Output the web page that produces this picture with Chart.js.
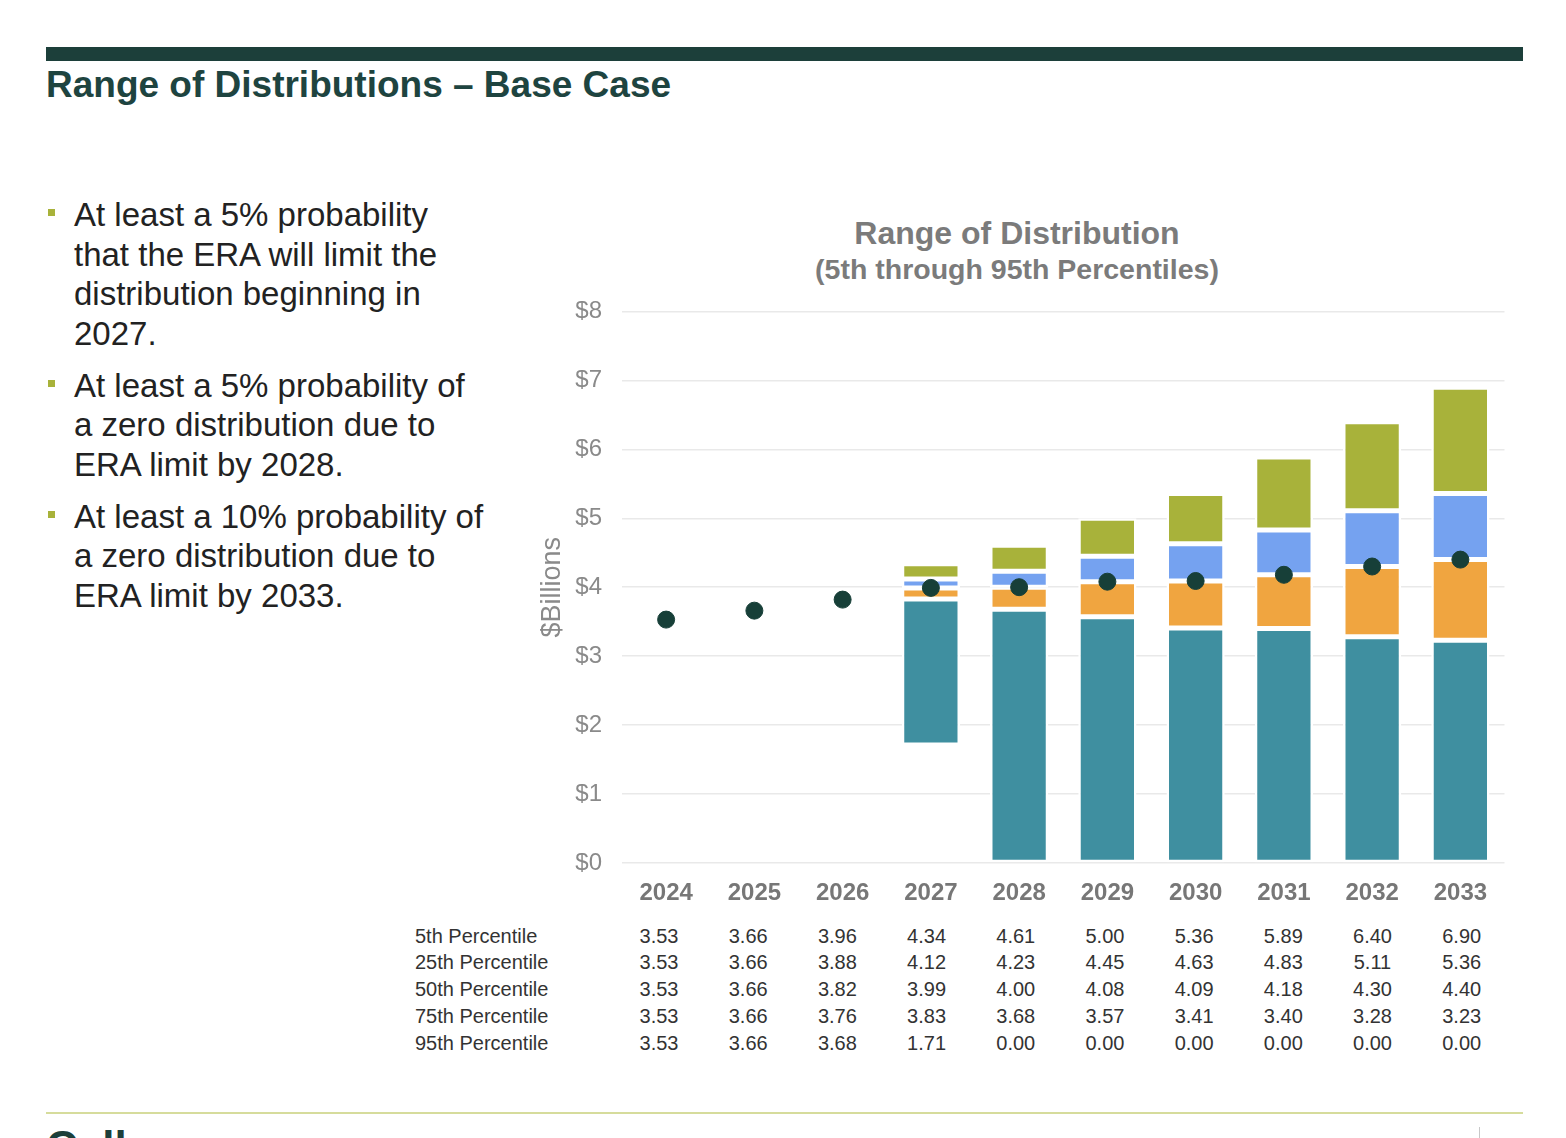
<!DOCTYPE html>
<html lang="en">
<head>
  <meta charset="UTF-8">
  <title>Range of Distributions – Base Case</title>
  <script src="https://cdn.jsdelivr.net/npm/chart.js"></script>
  <style>
    body {
      margin: 0;
      width: 1566px;
      height: 1138px;
      overflow: hidden;
      position: relative;
      background: #ffffff;
      font-family: 'Liberation Sans', Arial, sans-serif;
    }
    .topbar {
      position: absolute; left: 46px; top: 47px; width: 1477px; height: 14px;
      background: #1c3f3a;
    }
    h1 {
      position: absolute; left: 46px; top: 63px; margin: 0;
      font-size: 37px; line-height: 44px; font-weight: 700; color: #1e4440;
    }
    ul.points {
      position: absolute; left: 46px; top: 195px; margin: 0; padding: 0;
      list-style: none; font-size: 33px; line-height: 39.5px; color: #222;
    }
    ul.points li { position: relative; padding-left: 28px; margin-bottom: 12.5px; }
    ul.points li::before {
      content: ''; position: absolute; left: 2px; top: 14px; width: 7px; height: 7px;
      background: #a8b23a;
    }
    .chart-title {
      position: absolute; left: 717px; top: 215px; width: 600px; text-align: center;
      color: #7b7b7b; font-weight: 700;
    }
    .chart-title .main { font-size: 32px; line-height: 36px; }
    .chart-title .sub { font-size: 28.5px; line-height: 36px; }
    #wrap { position: absolute; left: 520px; top: 277px; width: 994px; height: 645px; }
    table.values {
      position: absolute; left: 415px; top: 922.6px; border-collapse: collapse;
      table-layout: fixed; font-size: 20px; color: #333;
    }
    table.values td { padding: 0; height: 26.75px; line-height: 26.75px; white-space: nowrap; }
    table.values td.lbl { width: 199.4px; text-align: left; }
    table.values td.num { width: 89.2px; text-align: center; }
    .footline {
      position: absolute; left: 46px; top: 1112px; width: 1477px; height: 2px;
      background: #d6dc9c;
    }
    .logo {
      position: absolute; left: 46px; top: 1125px; font-size: 44px; line-height: 44px;
      font-weight: 700; color: #1c3f3a;
    }
    .pagesep { position: absolute; left: 1479px; top: 1127px; width: 1px; height: 11px; background: #c8c8c8; }
  </style>
</head>
<body>
  <div class="topbar"></div>
  <h1>Range of Distributions – Base Case</h1>

  <ul class="points">
    <li>At least a 5% probability<br>that the ERA will limit the<br>distribution beginning in<br>2027.</li>
    <li>At least a 5% probability of<br>a zero distribution due to<br>ERA limit by 2028.</li>
    <li>At least a 10% probability of<br>a zero distribution due to<br>ERA limit by 2033.</li>
  </ul>

  <div class="chart-title">
    <div class="main">Range of Distribution</div>
    <div class="sub">(5th through 95th Percentiles)</div>
  </div>

  <div id="wrap"><canvas id="rangeChart"></canvas></div>

  <table class="values" id="valueTable"></table>

  <div class="footline"></div>
  <div class="logo">Callan</div>
  <div class="pagesep"></div>

  <script>
    const years = ['2024', '2025', '2026', '2027', '2028', '2029', '2030', '2031', '2032', '2033'];
    const p5  = [3.53, 3.66, 3.96, 4.34, 4.61, 5.00, 5.36, 5.89, 6.40, 6.90];
    const p25 = [3.53, 3.66, 3.88, 4.12, 4.23, 4.45, 4.63, 4.83, 5.11, 5.36];
    const p50 = [3.53, 3.66, 3.82, 3.99, 4.00, 4.08, 4.09, 4.18, 4.30, 4.40];
    const p75 = [3.53, 3.66, 3.76, 3.83, 3.68, 3.57, 3.41, 3.40, 3.28, 3.23];
    const p95 = [3.53, 3.66, 3.68, 1.71, 0.00, 0.00, 0.00, 0.00, 0.00, 0.00];
    // years where the range bars are drawn
    const barShown = [false, false, false, true, true, true, true, true, true, true];
    const rowLabels = ['5th Percentile', '25th Percentile', '50th Percentile', '75th Percentile', '95th Percentile'];
    const rowValues = [p5, p25, p50, p75, p95];

    // floating segment between two percentile rows
    function band(lo, hi) {
      return years.map((y, i) => barShown[i] ? [lo[i], hi[i]] : null);
    }

    function barSet(label, lo, hi, color) {
      return {
        type: 'bar',
        label: label,
        data: band(lo, hi),
        backgroundColor: color,
        borderColor: '#ffffff',
        borderWidth: 2.5,
        borderSkipped: false,
        grouped: false,
        barPercentage: 0.66,
        categoryPercentage: 1.0,
        order: 1
      };
    }

    Chart.defaults.font.family = "'Liberation Sans', Arial, sans-serif";

    new Chart(document.getElementById('rangeChart'), {
      type: 'bar',
      data: {
        labels: years,
        datasets: [
          {
            type: 'line',
            label: 'Median',
            data: p50,
            showLine: false,
            pointRadius: 8.5,
            pointHoverRadius: 8.5,
            pointBackgroundColor: '#173f38',
            pointBorderColor: '#173f38',
            order: 0
          },
          barSet('95th to 75th', p95, p75, '#3f8fa0'),
          barSet('75th to 50th', p75, p50, '#f0a540'),
          barSet('50th to 25th', p50, p25, '#75a2f0'),
          barSet('25th to 5th', p25, p5, '#a8b23a')
        ]
      },
      options: {
        responsive: true,
        maintainAspectRatio: false,
        animation: false,
        layout: { padding: { top: 8, right: 9, left: 0, bottom: 0 } },
        plugins: {
          legend: { display: false },
          tooltip: { enabled: false }
        },
        scales: {
          x: {
            grid: { display: false, drawTicks: false },
            border: { display: false },
            ticks: { padding: 16, color: '#777777', font: { size: 24, weight: 'bold' } },
            afterFit: scale => { scale.height = 59; }
          },
          y: {
            min: 0,
            max: 8,
            grid: { color: '#e9e9e9', lineWidth: 1.5, drawTicks: false },
            border: { display: false },
            ticks: {
              stepSize: 1,
              padding: 20,
              color: '#8a8a8a',
              font: { size: 24 },
              callback: v => '$' + v
            },
            title: {
              display: true,
              text: '$Billions',
              color: '#8a8a8a',
              font: { size: 27 },
              padding: { top: 16, bottom: 0 }
            },
            afterFit: scale => { scale.width = 102; }
          }
        }
      }
    });

    // data table under the chart
    const table = document.getElementById('valueTable');
    rowLabels.forEach((lbl, r) => {
      const tr = document.createElement('tr');
      const th = document.createElement('td');
      th.className = 'lbl';
      th.textContent = lbl;
      tr.appendChild(th);
      rowValues[r].forEach(v => {
        const td = document.createElement('td');
        td.className = 'num';
        td.textContent = v.toFixed(2);
        tr.appendChild(td);
      });
      table.appendChild(tr);
    });
  </script>
</body>
</html>
